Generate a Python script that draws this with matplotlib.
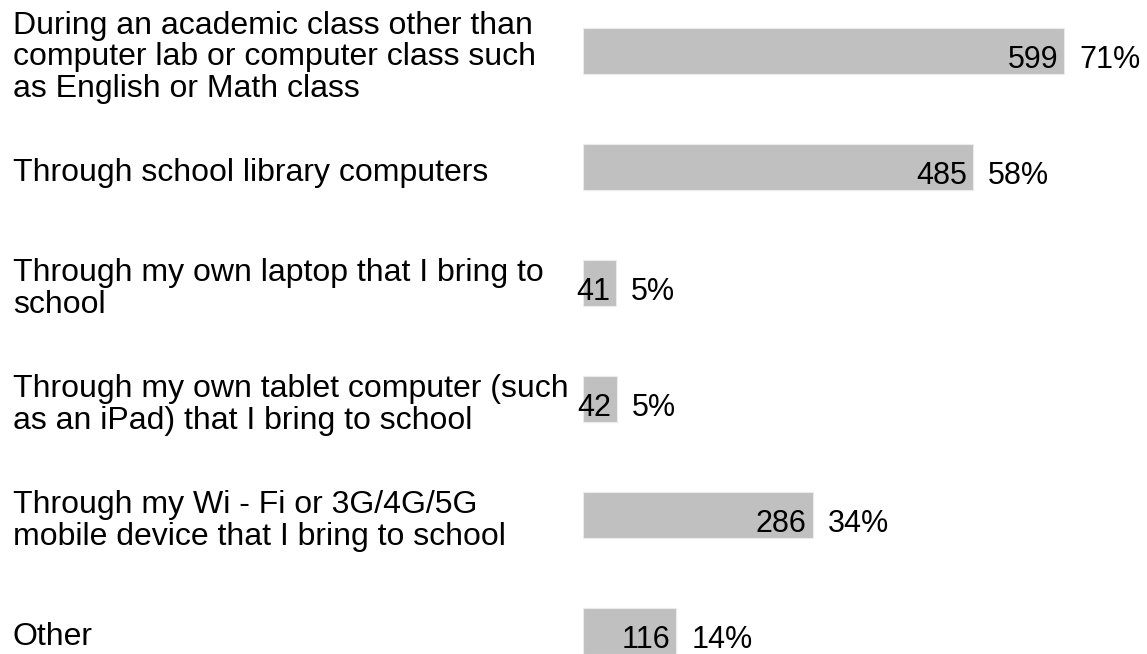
import matplotlib
matplotlib.use("Agg")
import matplotlib.pyplot as plt
import matplotlib.transforms as mtrans

# survey answers, counts and shares
answers = [
    "During an academic class other than\ncomputer lab or computer class such\nas English or Math class",
    "Through school library computers",
    "Through my own laptop that I bring to\nschool",
    "Through my own tablet computer (such\nas an iPad) that I bring to school",
    "Through my Wi - Fi or 3G/4G/5G\nmobile device that I bring to school",
    "Other",
]
counts = [599, 485, 41, 42, 286, 116]
shares = [71, 58, 5, 5, 34, 14]

plt.rcParams['font.family'] = ['Liberation Sans', 'DejaVu Sans']

fig = plt.figure(figsize=(11.47, 6.54), dpi=100)
ax = fig.add_axes([583 / 1147, 0, 1 - 583 / 1147, 1])

ypos = list(range(len(counts)))
ax.barh(ypos, counts, height=0.4, color="#c0c0c0", edgecolor="#ebebeb", linewidth=0.8)
ax.set_xlim(0, 702)
ax.set_ylim(5.200, -0.4426)
ax.axis("off")

for i, (c, s) in enumerate(zip(counts, shares)):
    ax.annotate(str(c), (c, i), xytext=(-6, -17), textcoords="offset pixels",
                ha="right", va="baseline", fontsize=22, color="black")
    ax.annotate(f"{s}%", (c, i), xytext=(15, -17), textcoords="offset pixels",
                ha="left", va="baseline", fontsize=22, color="black")

# category labels on the left, x in figure coords, y in data coords
trans = mtrans.blended_transform_factory(fig.transFigure, ax.transData)
for i, lab in enumerate(answers):
    ax.annotate(lab, (13 / 1147, i), xycoords=trans, xytext=(0, -6),
                textcoords="offset pixels", ha="left", va="center",
                fontsize=23, linespacing=1.06, annotation_clip=False)

fig.savefig("out.png", dpi=100)
